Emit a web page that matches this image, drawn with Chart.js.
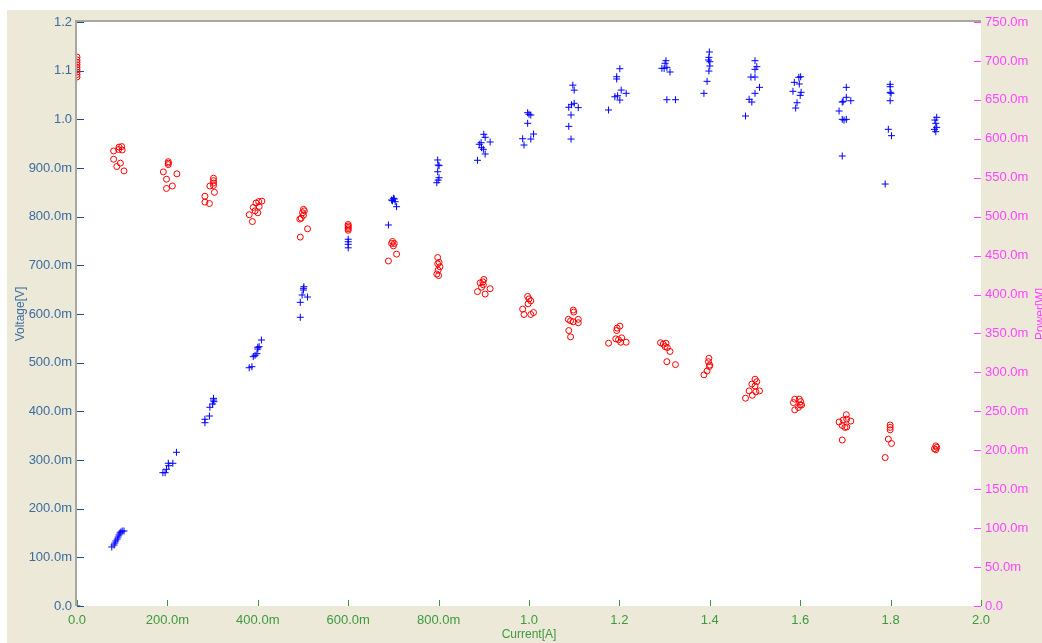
<!DOCTYPE html>
<html>
<head>
<meta charset="utf-8">
<script src="https://cdn.jsdelivr.net/npm/chart.js@4/dist/chart.umd.min.js"></script>
<style>
  html, body { margin: 0; padding: 0; background: #ffffff; }
  #wrap { width: 1042px; height: 643px; }
</style>
</head>
<body>
<div id="wrap"><canvas id="c" width="1042" height="643"></canvas></div>
<script>
// ---- tick labels ----
const xTickLabels = ['0.0','200.0m','400.0m','600.0m','800.0m','1.0','1.2','1.4','1.6','1.8','2.0'];
const leftTickLabels = ['0.0','100.0m','200.0m','300.0m','400.0m','500.0m','600.0m','700.0m','800.0m','900.0m','1.0','1.1','1.2'];
const rightTickLabels = ['0.0','50.0m','100.0m','150.0m','200.0m','250.0m','300.0m','350.0m','400.0m','450.0m','500.0m','550.0m','600.0m','650.0m','700.0m','750.0m'];

// ---- Voltage series (red circles, left axis) ----
const voltCurrent = [
  0,0,0,0,0,0,0,0,0,
  0.081,0.092,0.093,0.099,0.100,0.081,0.096,0.088,0.104,
  0.202,0.202,0.202,0.191,0.198,0.221,0.198,0.211,
  0.302,0.302,0.302,0.302,0.294,0.304,0.283,0.283,0.293,
  0.409,0.402,0.396,0.403,0.390,0.394,0.400,0.381,0.388,
  0.501,0.503,0.499,0.501,0.496,0.493,0.510,0.494,
  0.600,0.600,0.600,0.600,0.600,
  0.698,0.702,0.700,0.696,0.707,0.689,
  0.798,0.801,0.798,0.803,0.799,0.796,0.800,
  0.900,0.898,0.892,0.899,0.895,0.914,0.886,0.903,
  0.997,1.000,1.004,0.998,0.986,1.010,0.989,1.004,
  1.098,1.099,1.087,1.092,1.098,1.109,1.109,1.088,1.092,
  1.201,1.195,1.194,1.192,1.198,1.205,1.203,1.215,1.176,
  1.291,1.297,1.303,1.301,1.306,1.312,1.305,1.324,
  1.398,1.397,1.400,1.399,1.394,1.387,
  1.500,1.504,1.493,1.500,1.487,1.502,1.510,1.494,1.479,
  1.598,1.588,1.601,1.585,1.600,1.603,1.596,1.588,
  1.702,1.695,1.703,1.712,1.686,1.693,1.699,1.703,1.693,
  1.799,1.799,1.799,1.795,1.802,1.788,
  1.900,1.902,1.897,1.900
];
const voltValues = [
  1.128,1.122,1.117,1.112,1.107,1.102,1.097,1.092,1.087,
  0.935,0.938,0.943,0.944,0.937,0.918,0.910,0.903,0.894,
  0.913,0.910,0.907,0.892,0.877,0.888,0.858,0.863,
  0.879,0.874,0.869,0.864,0.863,0.850,0.842,0.830,0.827,
  0.832,0.831,0.828,0.821,0.819,0.812,0.808,0.804,0.790,
  0.815,0.812,0.808,0.803,0.797,0.795,0.775,0.758,
  0.784,0.781,0.778,0.775,0.772,
  0.749,0.745,0.740,0.745,0.723,0.709,
  0.716,0.706,0.703,0.697,0.690,0.682,0.679,
  0.671,0.666,0.664,0.660,0.655,0.652,0.646,0.641,
  0.636,0.631,0.627,0.621,0.610,0.603,0.599,0.599,
  0.608,0.604,0.589,0.586,0.584,0.589,0.582,0.566,0.553,
  0.575,0.571,0.566,0.549,0.547,0.551,0.542,0.542,0.540,
  0.541,0.538,0.540,0.533,0.531,0.523,0.502,0.496,
  0.509,0.502,0.495,0.492,0.483,0.475,
  0.466,0.461,0.456,0.452,0.442,0.440,0.442,0.433,0.427,
  0.425,0.425,0.420,0.418,0.413,0.413,0.408,0.403,
  0.393,0.382,0.384,0.380,0.378,0.371,0.367,0.368,0.341,
  0.372,0.367,0.362,0.343,0.334,0.305,
  0.329,0.326,0.323,0.321
];

// ---- Power series (blue crosses, right axis) ----
const powCurrent = [
  0,
  0.077,0.082,0.084,0.086,0.089,0.091,0.093,0.095,0.097,0.100,0.104,
  0.190,0.195,0.198,0.202,0.203,0.212,0.220,
  0.283,0.283,0.293,0.294,0.300,0.302,0.303,0.302,
  0.381,0.387,0.390,0.394,0.398,0.400,0.403,0.408,0.400,
  0.494,0.494,0.498,0.510,0.501,0.502,0.501,
  0.600,0.600,0.600,0.600,
  0.689,0.696,0.700,0.702,0.704,0.707,0.698,
  0.798,0.799,0.801,0.798,0.801,0.799,0.796,
  0.900,0.903,0.894,0.914,0.890,0.895,0.899,0.903,0.886,
  0.997,1.000,1.004,0.997,1.010,0.986,1.004,0.989,
  1.100,1.094,1.088,1.109,1.093,1.088,1.093,1.097,1.100,
  1.176,1.201,1.194,1.194,1.204,1.215,1.190,1.196,1.201,
  1.303,1.301,1.294,1.299,1.305,1.312,1.305,1.324,
  1.399,1.398,1.397,1.400,1.400,1.398,1.394,1.387,
  1.500,1.504,1.500,1.491,1.500,1.510,1.500,1.487,1.493,1.479,
  1.597,1.601,1.587,1.598,1.584,1.602,1.600,1.593,1.590,
  1.702,1.702,1.695,1.712,1.693,1.686,1.693,1.702,1.697,1.693,
  1.799,1.799,1.799,1.801,1.799,1.795,1.802,1.788,
  1.902,1.898,1.900,1.902,1.897,1.900
];
const powValues = [
  0,
  0.0758,0.0783,0.0809,0.0835,0.0860,0.0886,0.0912,0.0937,0.0950,0.0963,0.0963,
  0.1712,0.1712,0.1756,0.1833,0.1802,0.1833,0.1974,
  0.2354,0.2398,0.2440,0.2552,0.2594,0.2645,0.2624,0.2667,
  0.3060,0.3073,0.3202,0.3220,0.3240,0.3300,0.3330,0.3416,0.3322,
  0.3708,0.3900,0.3994,0.3968,0.4058,0.4100,0.4080,
  0.4710,0.4678,0.4645,0.4600,
  0.4893,0.5214,0.5236,0.5227,0.5192,0.5128,0.5205,
  0.5728,0.5663,0.5655,0.5577,0.5500,0.5470,0.5436,
  0.6058,0.6019,0.5950,0.5959,0.5930,0.5886,0.5865,0.5805,0.5724,
  0.6335,0.6315,0.6305,0.6199,0.6061,0.6001,0.5997,0.5920,
  0.6456,0.6438,0.6405,0.6400,0.6306,0.6160,0.5997,0.6689,0.6625,
  0.6370,0.6900,0.6797,0.6768,0.6626,0.6584,0.6540,0.6553,0.6498,
  0.7003,0.6970,0.6905,0.6905,0.6918,0.6858,0.6502,0.6502,
  0.7115,0.7046,0.7012,0.6990,0.6935,0.6870,0.6738,0.6584,
  0.7003,0.6926,0.6892,0.6793,0.6793,0.6661,0.6584,0.6507,0.6472,0.6293,
  0.6790,0.6797,0.6725,0.6704,0.6610,0.6597,0.6558,0.6463,0.6395,
  0.6661,0.6533,0.6481,0.6489,0.6472,0.6357,0.6250,0.6250,0.6241,0.5779,
  0.6700,0.6669,0.6597,0.6584,0.6489,0.6122,0.6040,0.5419,
  0.6276,0.6241,0.6199,0.6147,0.6122,0.6091
];

const voltPoints = voltCurrent.map((x, i) => ({ x: x, y: voltValues[i] }));
const powPoints = powCurrent.map((x, i) => ({ x: x, y: powValues[i] }));

const FONT = "'Liberation Sans', Arial, sans-serif";
const C_LEFT = '#3b6b9f', C_LEFT_TICK = '#1f4e8a';
const C_X = '#3c9a3c';
const C_RIGHT = '#ff44ff';
const BEIGE = '#ece9d8';

const framePlugin = {
  id: 'frame',
  beforeDraw(chart) {
    const ctx = chart.ctx, a = chart.chartArea;
    ctx.save();
    ctx.fillStyle = '#ffffff';
    ctx.fillRect(0, 0, chart.width, chart.height);
    ctx.fillStyle = BEIGE;
    ctx.fillRect(7, 10, chart.width - 7, chart.height - 10);
    ctx.fillStyle = '#ffffff';
    ctx.fillRect(a.left, a.top, a.right - a.left, a.bottom - a.top);
    ctx.restore();
  },
  afterDraw(chart) {
    const ctx = chart.ctx, a = chart.chartArea;
    const sx = chart.scales.x, sy = chart.scales.y, sp = chart.scales.y2;
    ctx.save();
    // frame lines
    ctx.strokeStyle = '#a8a8a0';
    ctx.lineWidth = 2;
    ctx.beginPath();
    ctx.moveTo(a.left - 1, a.bottom);
    ctx.lineTo(a.left - 1, a.top - 1);
    ctx.lineTo(a.right, a.top - 1);
    ctx.stroke();
    ctx.lineWidth = 1;
    // left ticks (inward)
    ctx.strokeStyle = C_LEFT_TICK;
    sy.ticks.forEach(t => {
      const y = Math.round(sy.getPixelForValue(t.value)) + 0.5;
      ctx.beginPath(); ctx.moveTo(a.left, y); ctx.lineTo(a.left + 7, y); ctx.stroke();
    });
    // right ticks (inward)
    ctx.strokeStyle = C_RIGHT;
    sp.ticks.forEach(t => {
      const y = Math.round(sp.getPixelForValue(t.value)) + 0.5;
      ctx.beginPath(); ctx.moveTo(a.right - 7, y); ctx.lineTo(a.right, y); ctx.stroke();
    });
    // bottom ticks (inward)
    ctx.strokeStyle = C_X;
    sx.ticks.forEach(t => {
      const x = Math.round(sx.getPixelForValue(t.value)) + 0.5;
      ctx.beginPath(); ctx.moveTo(x, a.bottom - 6); ctx.lineTo(x, a.bottom); ctx.stroke();
    });
    // right axis title (reads bottom to top, clipped by the canvas edge)
    ctx.fillStyle = C_RIGHT;
    ctx.font = '12px ' + FONT;
    ctx.textAlign = 'center';
    ctx.textBaseline = 'middle';
    ctx.translate(1041, (a.top + a.bottom) / 2);
    ctx.rotate(-Math.PI / 2);
    ctx.fillText('Power[W]', 0, 0);
    ctx.restore();
  }
};

new Chart(document.getElementById('c'), {
  type: 'scatter',
  data: {
    datasets: [
      {
        label: 'Voltage',
        data: voltPoints,
        yAxisID: 'y',
        pointStyle: 'circle',
        pointRadius: 3,
        borderWidth: 1,
        borderColor: '#ff0000',
        backgroundColor: 'rgba(0,0,0,0)',
        clip: 0
      },
      {
        label: 'Power',
        data: powPoints,
        yAxisID: 'y2',
        pointStyle: 'cross',
        pointRadius: 3.5,
        borderWidth: 1,
        borderColor: '#0000ff',
        backgroundColor: '#0000ff',
        clip: 0
      }
    ]
  },
  plugins: [framePlugin],
  options: {
    responsive: false,
    animation: false,
    devicePixelRatio: 1,
    events: [],
    layout: { padding: { top: 22, left: 0, right: 0, bottom: 0 } },
    plugins: { legend: { display: false }, tooltip: { enabled: false } },
    scales: {
      x: {
        type: 'linear',
        position: 'bottom',
        min: 0, max: 2,
        afterFit: s => { s.height = 37; },
        grid: { display: false, drawTicks: false },
        border: { display: false },
        ticks: {
          stepSize: 0.2,
          autoSkip: false,
          maxRotation: 0,
          padding: 7,
          color: C_X,
          font: { family: FONT, size: 13 },
          callback: v => xTickLabels[Math.round(v / 0.2)]
        },
        title: {
          display: true,
          text: 'Current[A]',
          color: C_X,
          font: { family: FONT, size: 12 },
          padding: { top: 0, bottom: 1 }
        }
      },
      y: {
        type: 'linear',
        position: 'left',
        min: 0, max: 1.2,
        afterFit: s => { s.width = 77; },
        grid: { display: false, drawTicks: false },
        border: { display: false },
        ticks: {
          stepSize: 0.1,
          autoSkip: false,
          padding: 5,
          color: C_LEFT,
          font: { family: FONT, size: 13 },
          callback: v => leftTickLabels[Math.round(v / 0.1)]
        },
        title: {
          display: true,
          text: 'Voltage[V]',
          color: C_LEFT,
          font: { family: FONT, size: 12 },
          padding: { top: 13, bottom: 0 }
        }
      },
      y2: {
        type: 'linear',
        position: 'right',
        min: 0, max: 0.75,
        afterFit: s => { s.width = 61; },
        grid: { display: false, drawTicks: false },
        border: { display: false },
        ticks: {
          stepSize: 0.05,
          autoSkip: false,
          padding: 4,
          color: C_RIGHT,
          font: { family: FONT, size: 13 },
          callback: v => rightTickLabels[Math.round(v / 0.05)]
        }
      }
    }
  }
});
</script>
</body>
</html>
